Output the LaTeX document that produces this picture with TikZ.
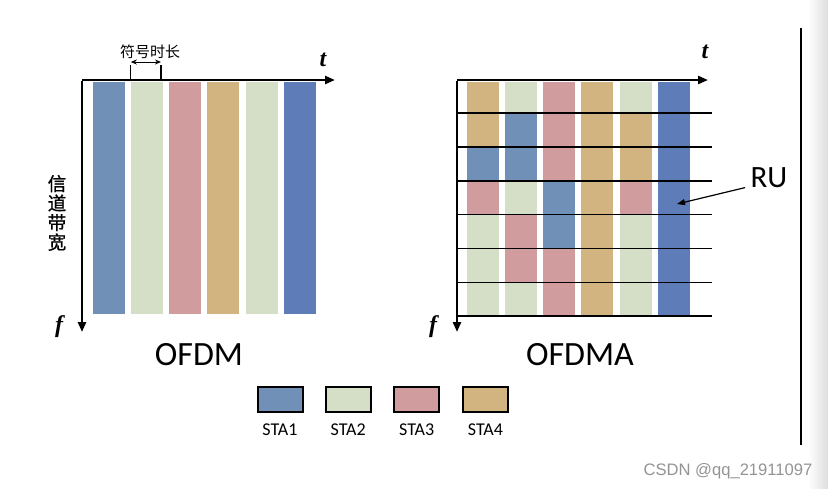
\documentclass[tikz,border=0pt]{standalone}
\usepackage{fontspec}
\setmainfont{Carlito}
\newfontfamily\cjk{Noto Sans CJK SC}
\newfontfamily\cjkmid[FakeBold=1.0]{Noto Sans CJK SC}
\newfontfamily\axfont{Liberation Serif}
\newfontfamily\wmfont{Liberation Sans}
\usetikzlibrary{arrows.meta}
\definecolor{staA}{HTML}{7090B8}
\definecolor{staAd}{HTML}{5E7CB8}
\definecolor{staB}{HTML}{D5DFC8}
\definecolor{staC}{HTML}{D09C9E}
\definecolor{staD}{HTML}{D1B480}
\begin{document}
\begin{tikzpicture}[x=1pt,y=-1pt,
  axis/.style={line width=2.6pt,-{Triangle[length=10pt,width=8pt]}},
  gridline/.style={line width=1.5pt,black},
  axlabel/.style={font=\axfont\bfseries\itshape\fontsize{24}{24}\selectfont},
  title/.style={font=\fontsize{34}{34}\selectfont},
  legbox/.style={draw=black,line width=2pt,minimum width=45pt,minimum height=25pt,inner sep=0pt},
  leglabel/.style={font=\fontsize{18}{18}\selectfont},
]
\useasboundingbox (0,0) rectangle (828,488);
\fill[white] (0,0) rectangle (828,488);
\shade[left color=white,right color=black!13] (808,0) rectangle (828,488);

% ---------- left: OFDM ----------
\foreach \c [count=\i from 0] in {staA,staB,staC,staD,staB,staAd}{
  \fill[\c] (92.5+38.3*\i,82) rectangle ++(32,232);
}
\coordinate (lo) at (82,80);
\coordinate (lt) at (335,80);
\coordinate (lf) at (82,332);
\draw[axis] (lo) -- (lt);
\draw[axis] ([yshift=-1.3pt]lo) -- (lf);
\node[axlabel] (tl) at (323,60) {t};
\node[axlabel] (fl) at (59,327) {f};

% symbol duration
\coordinate (sa) at (130.8,65);
\coordinate (sb) at (161,65);
\draw[line width=1.2pt] (sa) -- (130.8,80);
\draw[line width=1.2pt] (sb) -- (161,80);
\draw[line width=1pt,{Stealth[length=6pt,width=5pt]}-{Stealth[length=6pt,width=5pt]}] ([yshift=3pt]sa) -- ([yshift=3pt]sb);
\node[font=\cjk\fontsize{15}{15}\selectfont] (dur) at (150,52) {符号时长};
\node[font=\cjkmid\fontsize{18.5}{19.5}\selectfont,align=center,inner sep=0pt] (bw) at (57,213) {信\\道\\带\\宽};
\node[title] (ofdm) at (199,355) {OFDM};

% ---------- right: OFDMA ----------
\def\rows{{82,113,147,181,214.5,248.5,282.5,316}}
\foreach \r/\cols [count=\j from 0] in {
  0/{staD,staB,staC,staD,staB,staAd},
  1/{staD,staA,staC,staD,staD,staAd},
  2/{staA,staA,staC,staD,staD,staAd},
  3/{staC,staB,staA,staD,staC,staAd},
  4/{staB,staC,staA,staD,staB,staAd},
  5/{staB,staC,staC,staD,staB,staAd},
  6/{staB,staB,staC,staD,staB,staAd}}{
  \pgfmathsetmacro\ya{\rows[\j]}
  \pgfmathsetmacro\yb{\rows[\j+1]}
  \foreach \c [count=\i from 0] in \cols{
    \fill[\c] (466.8+38.2*\i,\ya) rectangle (498.8+38.2*\i,\yb);
  }
}
\foreach \y in {113,147,181,214.5,248.5,282.5,316}{
  \draw[gridline] (457,\y) -- (712,\y);
}
\coordinate (ro) at (457,80);
\coordinate (rt) at (708,80);
\coordinate (rf) at (457,332);
\draw[axis] (ro) -- (rt);
\draw[axis] ([yshift=-1.3pt]ro) -- (rf);
\node[axlabel] (tr) at (705,52) {t};
\node[axlabel] (fr) at (433,327) {f};
\node[title] (ofdma) at (580,355) {OFDMA};

\node[font=\fontsize{31}{31}\selectfont] (ru) at (769,178) {RU};
\coordinate (rutip) at (677,204);
\draw[line width=1.2pt,-{Triangle[length=8pt,width=6pt]}] (ru.south west) ++(-2,-4) -- (rutip);

% ---------- legend ----------
\foreach \c/\t/\x [count=\k] in {staA/STA1/280,staB/STA2/348.2,staC/STA3/416.7,staD/STA4/485.5}{
  \node[legbox,fill=\c] (box\k) at (\x,399.5) {};
  \node[leglabel] (lab\k) at (\x,430) {\t};
}

% ---------- right rule and watermark ----------
\coordinate (va) at (801,28);
\coordinate (vb) at (801,445);
\draw[line width=1.4pt] (va) -- (vb);
\node[font=\wmfont\fontsize{16.6}{16.6}\selectfont,text=black!42] (wm) at (728,471) {CSDN @qq\_21911097};
\end{tikzpicture}
\end{document}
